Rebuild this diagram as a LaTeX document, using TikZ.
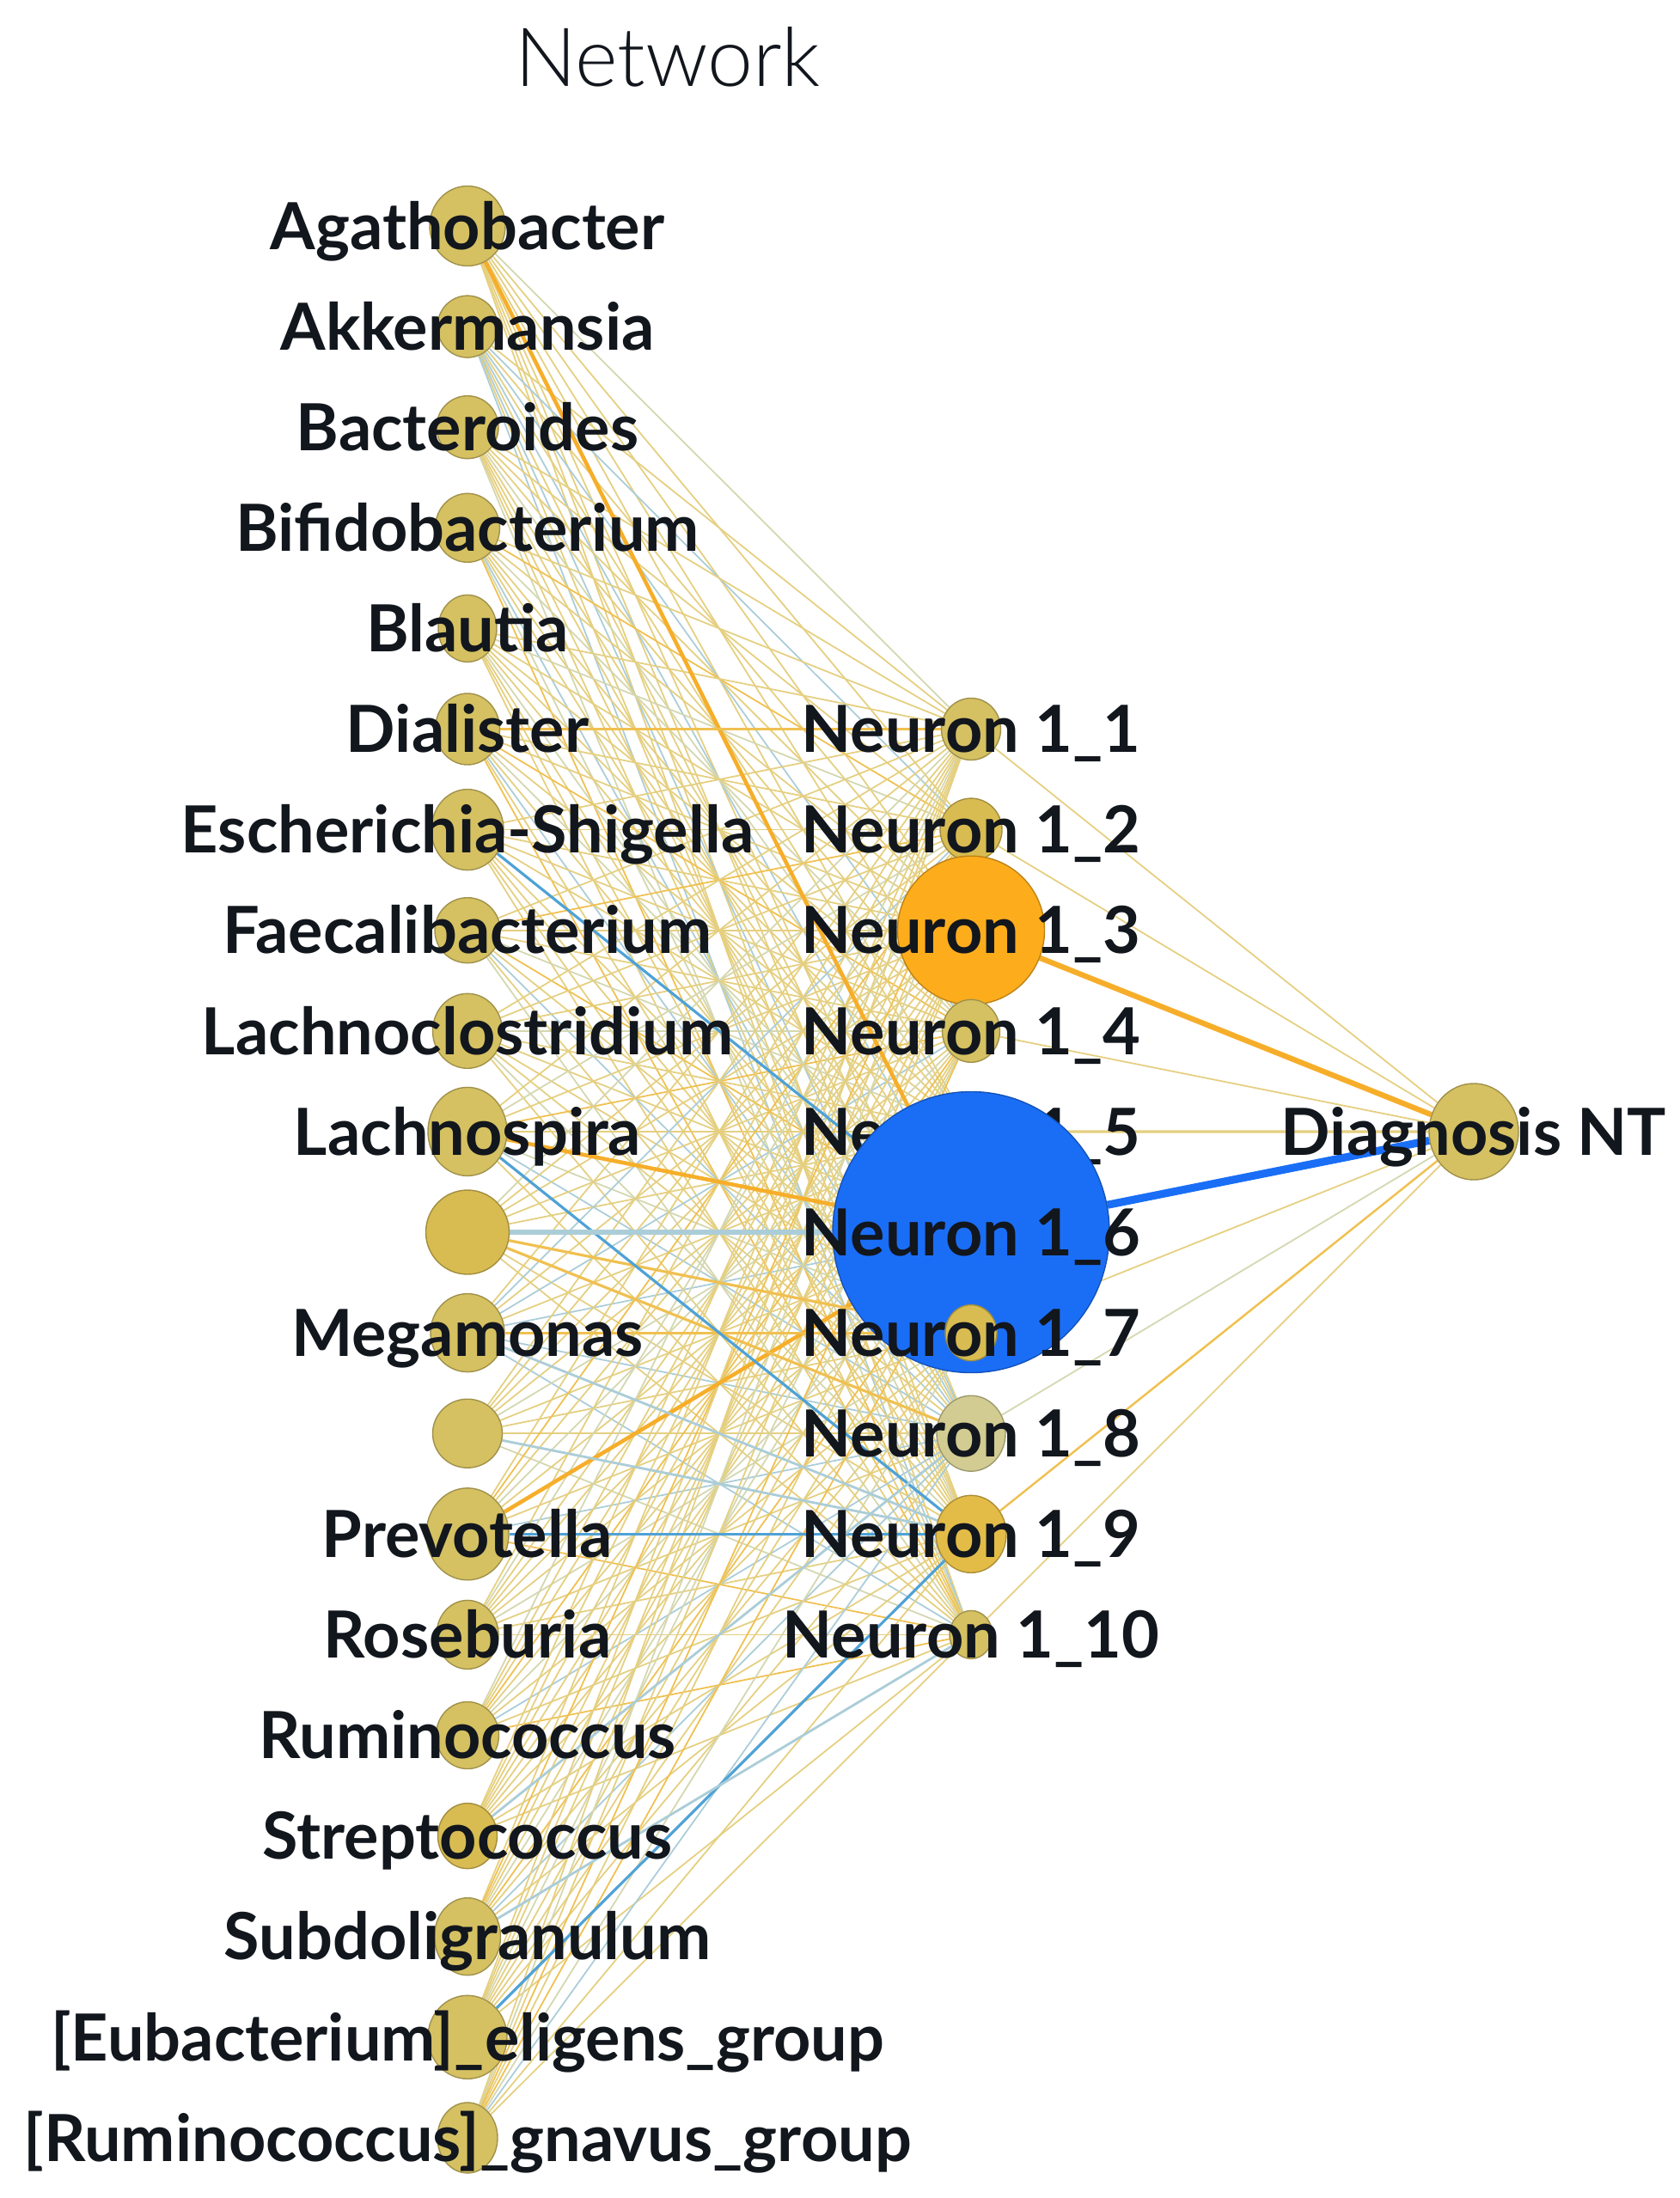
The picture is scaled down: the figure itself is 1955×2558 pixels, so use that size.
\documentclass[tikz,border=0pt]{standalone}
\usepackage{fontspec}
\setmainfont{Lato}
\newfontfamily\thinfont{Lato Light}
\usetikzlibrary{shapes.geometric,backgrounds}

\definecolor{nodefill}{HTML}{D5C162}
\definecolor{deepfill}{HTML}{D8BC52}
\definecolor{goldfill}{HTML}{E3BC48}
\definecolor{palefill}{HTML}{D2CC92}
\definecolor{amberfill}{HTML}{FDAD1C}
\definecolor{bluefill}{HTML}{1A6EF6}
\definecolor{ink}{HTML}{12161D}
\definecolor{wiretan}{HTML}{E5CF80}
\definecolor{wiresage}{HTML}{D4D7AF}
\definecolor{wireamber}{HTML}{F0C050}
\definecolor{wiresky}{HTML}{ABCDD8}
\definecolor{wirehot}{HTML}{F6AE2A}
\definecolor{wireblue}{HTML}{4FA2D6}

\tikzset{
    taxon/.style={ellipse, line width=0.4pt, inner sep=0pt},
    lbl/.style={font=\bfseries\fontsize{21.5pt}{26pt}\selectfont, text=ink,
        inner sep=0pt, text height=0.545cm, text depth=0pt},
    wire/.style={line width=0.5pt},
    hotwire/.style={line width=1.3pt, draw=wirehot},
    warmwire/.style={line width=0.9pt, draw=wireamber},
    bluewire/.style={line width=0.9pt, draw=wireblue},
    skywire/.style={line width=0.8pt, draw=wiresky},
}

\begin{document}
\begin{tikzpicture}[x=0.01cm,y=-0.01cm]
    \useasboundingbox (0,0) rectangle (1955,2558);
    \node[font=\thinfont\fontsize{27pt}{32pt}\selectfont, text=ink, inner sep=0pt,
        text height=0.68cm, text depth=0pt] (title) at (777,66) {Network};
    % input layer
    \foreach \tx/\w/\h/\f [count=\i] in {
        Agathobacter/88/93/nodefill, Akkermansia/70/72/nodefill,
        Bacteroides/72/73/nodefill, Bifidobacterium/75/80/nodefill,
        Blautia/68/78/nodefill, Dialister/75/83/nodefill,
        Escherichia-Shigella/84/94/nodefill, Faecalibacterium/76/76/nodefill,
        Lachnoclostridium/81/87/nodefill, Lachnospira/92/103/nodefill,
        {}/97/98/deepfill, Megamonas/86/91/nodefill,
        {}/81/80/nodefill, Prevotella/96/107/nodefill,
        Roseburia/72/80/nodefill, Ruminococcus/73/78/nodefill,
        Streptococcus/69/76/deepfill, Subdoligranulum/77/90/nodefill,
        {[Eubacterium]\_eligens\_group}/92/97/nodefill,
        {[Ruminococcus]\_gnavus\_group}/70/82/nodefill}{
        \node[taxon, fill=\f, draw=\f!75!black, minimum width=\w*0.01cm,
            minimum height=\h*0.01cm, label={[lbl]center:\tx}]
            (in\i) at (544,{263+(\i-1)*117.1}) {};
    }
    % hidden layer
    \foreach \w/\h/\f [count=\j] in {69/72/nodefill, 72/73/deepfill, 171/173/amberfill,
        67/73/nodefill, 62/66/nodefill, 322/327/bluefill, 60/65/deepfill,
        80/88/palefill, 82/90/goldfill, 50/56/nodefill}{
        \node[taxon, fill=\f, draw=\f!75!black, minimum width=\w*0.01cm,
            minimum height=\h*0.01cm, label={[lbl]center:Neuron 1\_\j}]
            (hid\j) at (1130,{263+(\j+4)*117.1}) {};
    }
    % output
    \node[taxon, fill=nodefill, draw=nodefill!75!black, minimum width=1.04cm,
        minimum height=1.12cm, label={[lbl]center:Diagnosis NT}] (out) at (1715,1317) {};

    \begin{pgfonlayer}{background}
        \foreach \i in {1,...,20}{
            \foreach \j in {1,...,10}{
                \pgfmathtruncatemacro{\k}{mod(7*\i+3*\j+\i*\j,10)}
                \ifcase\k \def\wc{wiretan}\or \def\wc{wiresage}\or \def\wc{wireamber}\or
                    \def\wc{wiretan}\or \def\wc{wiresky}\or \def\wc{wiretan}\or
                    \def\wc{wiresage}\or \def\wc{wiretan}\or \def\wc{wireamber}\else
                    \def\wc{wiretan}\fi
                \draw[wire, draw=\wc] (in\i) -- (hid\j);
            }
        }
        % strong links
        \foreach \i/\j in {1/6, 10/6, 14/6}
            \draw[hotwire] (in\i) -- (hid\j);
        \foreach \i/\j in {6/1, 11/7, 11/8, 12/7}
            \draw[warmwire] (in\i) -- (hid\j);
        \foreach \i/\j in {10/9, 14/9, 7/6, 19/9}
            \draw[bluewire] (in\i) -- (hid\j);
        \foreach \i/\j in {12/9, 13/9, 17/8, 18/10}
            \draw[skywire] (in\i) -- (hid\j);
        \draw[skywire, line width=1.6pt] (in11) -- (hid6);
        % to the output
        \foreach \j in {1,2,4,7,10}
            \draw[wire, draw=wiretan] (hid\j) -- (out);
        \draw[wire, draw=wiresage] (hid8) -- (out);
        \draw[wire, draw=wireamber, line width=0.7pt] (hid9) -- (out);
        \draw[wire, draw=wiretan, line width=0.9pt] (hid5) -- (out);
        \draw[hotwire, line width=1.8pt] (hid3) -- (out);
        \draw[line width=2.6pt, draw=bluefill] (hid6) -- (out);
    \end{pgfonlayer}
\end{tikzpicture}
\end{document}
